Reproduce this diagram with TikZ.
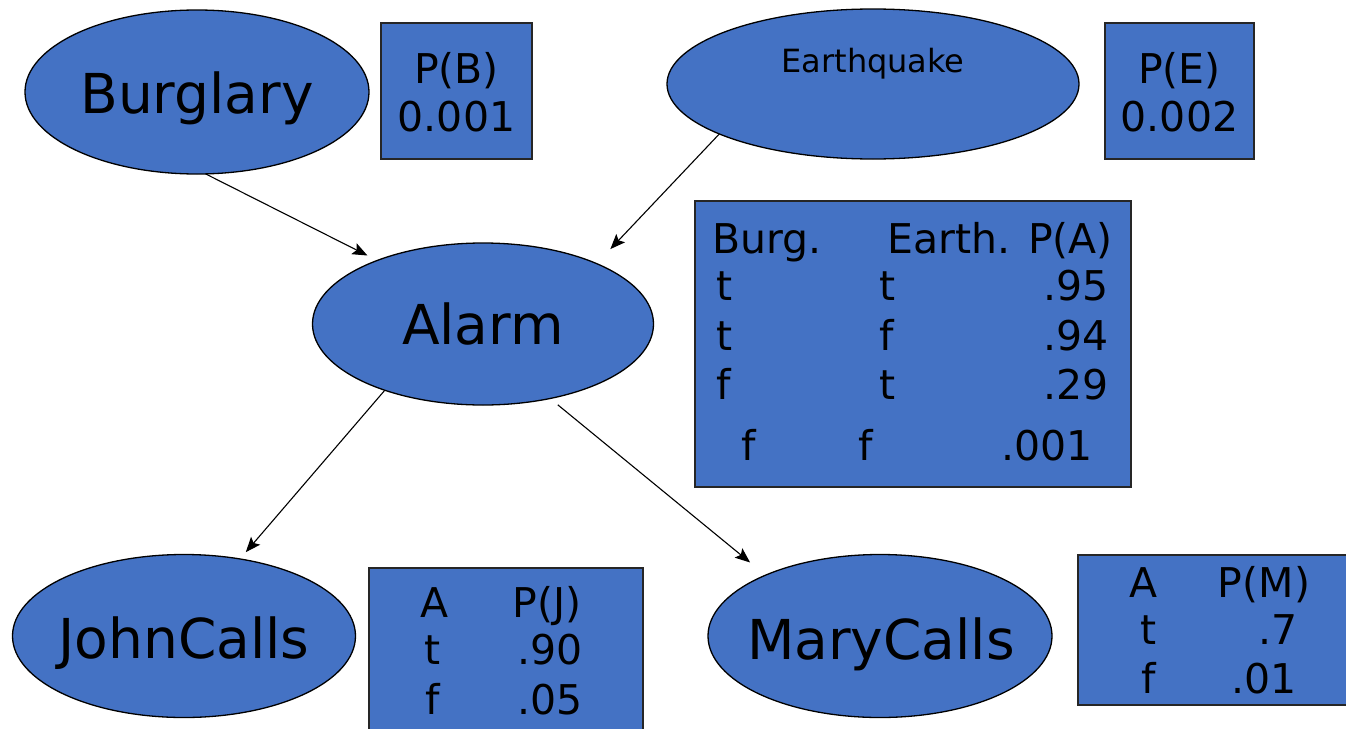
\documentclass[tikz,border=0pt]{standalone}
\usepackage{fontspec}
\setmainfont{DejaVu Sans}
\usetikzlibrary{shapes.geometric,arrows.meta}
\definecolor{nodeblue}{HTML}{4472C4}
\begin{document}
\begin{tikzpicture}[x=1pt,y=-1pt,
  bnode/.style={ellipse, draw=black, line width=1.3pt, fill=nodeblue, inner sep=0pt, outer sep=0pt},
  cpt/.style={rectangle, draw=black!85, line width=1.8pt, fill=nodeblue, inner sep=0pt, outer sep=0pt},
  big/.style={font=\fontsize{55}{64}\selectfont, inner sep=0pt, anchor=base},
  tab/.style={font=\fontsize{41}{48}\selectfont, inner sep=0pt, anchor=base},
  tabl/.style={tab, anchor=base west},
  tabr/.style={tab, anchor=base east},
  link/.style={-{Stealth[length=15pt,width=12pt,inset=3pt]}, line width=1.1pt}]
\useasboundingbox (0,0) rectangle (1346,728);
\fill[white] (0,0) rectangle (1346,728);

% network nodes
\node[bnode, minimum width=344pt, minimum height=164pt] (burglary) at (197,92) {};
\node[bnode, minimum width=412pt, minimum height=150pt] (earthquake) at (873,84) {};
\node[bnode, minimum width=341pt, minimum height=162pt] (alarm) at (483,324) {};
\node[bnode, minimum width=343pt, minimum height=163pt] (john) at (184,636) {};
\node[bnode, minimum width=344pt, minimum height=163pt] (mary) at (880,636) {};

\node[big] (burglaryText) at (197,113) {Burglary};
\node[tab, font=\fontsize{32}{38}\selectfont] (earthquakeText) at (873,72) {Earthquake};
\node[big] (alarmText) at (483,344) {Alarm};
\node[big] (johnText) at (184,658) {JohnCalls};
\node[big] (maryText) at (881,659) {MaryCalls};

% conditional probability tables
\node[cpt, minimum width=151pt, minimum height=136pt] (pb) at (456.5,91) {};
\node[tab] (pbHead) at (456.5,83) {P(B)};
\node[tab] (pbVal) at (456.5,131) {0.001};

\node[cpt, minimum width=149pt, minimum height=136pt] (pe) at (1179.5,91) {};
\node[tab] (peHead) at (1179.5,83) {P(E)};
\node[tab] (peVal) at (1179.5,131) {0.002};

\node[cpt, minimum width=436pt, minimum height=286pt] (pa) at (913,344) {};
\node[tabl] (paH1) at (712,253) {Burg.};
\node[tabr] (paH2) at (1113,253) {Earth. P(A)};
\node[tabl] (paB1) at (716,300) {t};
\node[tabl] (paE1) at (879,300) {t};
\node[tabr] (paV1) at (1109,300) {.95};
\node[tabl] (paB2) at (716,350) {t};
\node[tabl] (paE2) at (879,350) {f};
\node[tabr] (paV2) at (1109,350) {.94};
\node[tabl] (paB3) at (716,399) {f};
\node[tabl] (paE3) at (879,399) {t};
\node[tabr] (paV3) at (1109,399) {.29};
\node[tabl] (paB4) at (741,460) {f};
\node[tabl] (paE4) at (858,460) {f};
\node[tabr] (paV4) at (1093,460) {.001};

\node[cpt, minimum width=274pt, minimum height=172pt] (pj) at (506,654) {};
\node[tab] (pjH1) at (435,617) {A};
\node[tab] (pjH2) at (547,617) {P(J)};
\node[tab] (pjA1) at (433,664) {t};
\node[tab] (pjV1) at (550,664) {.90};
\node[tab] (pjA2) at (433,714) {f};
\node[tab] (pjV2) at (550,714) {.05};

\node[cpt, minimum width=282pt, minimum height=150pt] (pm) at (1219,630) {};
\node[tab] (pmH1) at (1144,597) {A};
\node[tab] (pmH2) at (1264,597) {P(M)};
\node[tab] (pmA1) at (1149,644) {t};
\node[tabr] (pmV1) at (1298,644) {.7};
\node[tab] (pmA2) at (1149,693) {f};
\node[tabr] (pmV2) at (1297,693) {.01};

% causal links
\draw[link, shorten >=11pt] (burglary.-84) -- (alarm.149);
\draw[link, shorten >=20pt] (earthquake.-162) -- (alarm.28);
\draw[link, shorten >=9pt] (alarm.-146) -- (john.54);
\draw[link, shorten <=10pt, shorten >=20pt] (alarm.-48) -- (mary.152);
\end{tikzpicture}
\end{document}
